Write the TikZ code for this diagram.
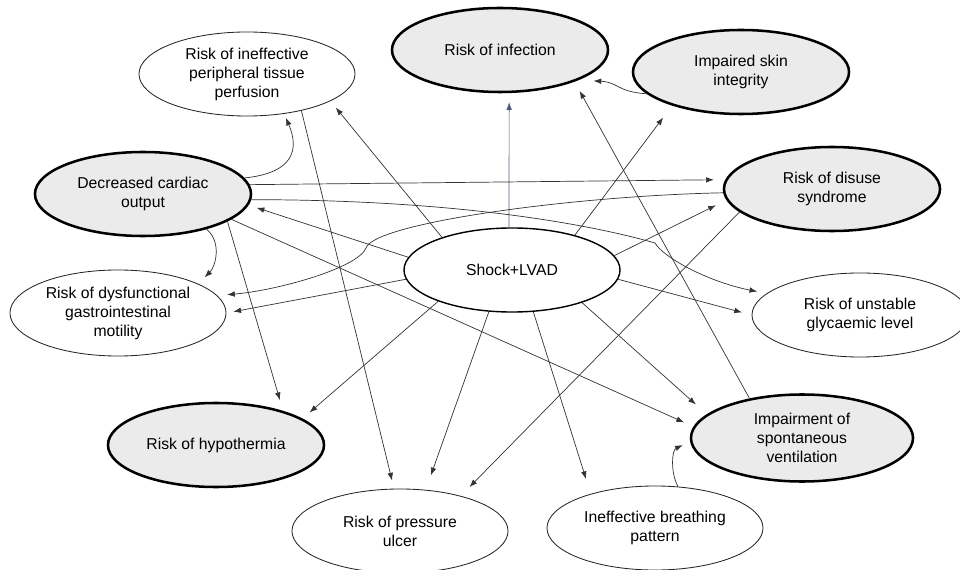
\documentclass[tikz,border=0pt]{standalone}
\usepackage{fontspec}
\setmainfont{Liberation Sans}
\usepackage{tikz}
\usetikzlibrary{shapes.geometric,arrows.meta}
\definecolor{slate}{RGB}{80,90,120}

\begin{document}
\begin{tikzpicture}[x=0.025cm,y=-0.025cm]
    \tikzstyle{diag}=[draw=black!85,shape=ellipse,fill=white,line width=0.6pt,minimum width=5.4cm,minimum height=2.1cm,inner sep=0pt,align=center,font=\fontsize{11.2}{13.5}\selectfont]
    \tikzstyle{main}=[diag,draw=black,fill=black!8,line width=1.8pt]
    \tikzstyle{centre}=[diag,draw=black,line width=1pt]
    \tikzstyle{arrow}=[draw,line width=0.5pt,black!80,-{Latex[length=5.5pt,width=4pt]}]

    \useasboundingbox (0,0) rectangle (960,570);

    \node[centre] (shock) at (512,270) {Shock+LVAD};
    \node[diag] (perf) at (247,74) {Risk of ineffective\\peripheral tissue\\perfusion};
    \node[main] (infect) at (500,50) {Risk of infection};
    \node[main] (skin) at (741,72) {Impaired skin\\integrity};
    \node[main] (cardiac) at (143,194) {Decreased cardiac\\output};
    \node[main] (disuse) at (832,189) {Risk of disuse\\syndrome};
    \node[diag,minimum height=2.15cm] (gi) at (118,313) {Risk of dysfunctional\\gastrointestinal\\motility};
    \node[diag] (glyc) at (860,315) {Risk of unstable\\glycaemic level};
    \node[main] (hypo) at (216,445) {Risk of hypothermia};
    \node[main,minimum width=5.55cm,minimum height=2.175cm] (vent) at (802,438) {Impairment of\\spontaneous\\ventilation};
    \node[diag] (ulcer) at (400,531) {Risk of pressure\\ulcer};
    \node[diag] (breath) at (655,528) {Ineffective breathing\\pattern};

    \path[arrow,shorten >=6pt] (shock.155) -- (perf.-18);
    \path[arrow,slate,shorten >=6.4pt] (shock.94) -- (infect.-78);
    \path[arrow,shorten >=10.6pt] (shock.29) -- (skin.-154);
    \path[arrow,shorten >=8.3pt] (shock.8) -- (disuse.186);
    \path[arrow,shorten >=7pt] (shock.-5) -- (glyc.180);
    \path[arrow,shorten >=10.4pt] (shock.-25) -- (vent.166);
    \path[arrow,shorten >=11pt] (shock.-63) -- (breath.152);
    \path[arrow,shorten >=10.9pt] (shock.-119) -- (ulcer.58);
    \path[arrow,shorten >=6.6pt] (shock.-157) -- (hypo.17);
    \path[arrow,shorten >=5pt] (shock.185) -- (gi.0);
    \path[arrow,shorten >=6pt] (shock.173) -- (cardiac.-6);
    \path[arrow,shorten >=3pt] (cardiac.9) .. controls +(50,-5) and +(15,35) .. (perf.-47);
    \path[arrow,shorten >=8.2pt] (cardiac.5) -- (disuse.175);
    \path[arrow,shorten >=6.8pt] (cardiac.-3) .. controls +(200,0) and +(-70,-20) .. (655,243) .. controls +(8,14) and +(-60,-12) .. (glyc.167);
    \path[arrow,shorten >=6.4pt] (cardiac.-29) .. controls +(15,12) and +(18,-18) .. (gi.20);
    \path[arrow,shorten >=7.9pt] (cardiac.-18) -- (hypo.27);
    \path[arrow,shorten >=7.3pt] (cardiac.-16) -- (vent.174);
    \path[arrow,shorten >=5.9pt] (perf.-34) -- (ulcer.98);
    \path[arrow,shorten >=7pt] (disuse.182) .. controls +(-150,3) and +(8,-25) .. (366,248) .. controls +(-8,20) and +(60,-5) .. (gi.10);
    \path[arrow,shorten >=8.8pt] (disuse.194) -- (ulcer.30);
    \path[arrow,shorten >=7.5pt] (vent.143) -- (infect.-23);
    \path[arrow,shorten >=5.7pt] (breath.61) .. controls +(-8,-15) and +(-18,8) .. (vent.182);
    \path[arrow,shorten >=10.7pt] (skin.193) .. controls +(-30,-2) and +(40,2) .. (infect.-21);
\end{tikzpicture}
\end{document}
